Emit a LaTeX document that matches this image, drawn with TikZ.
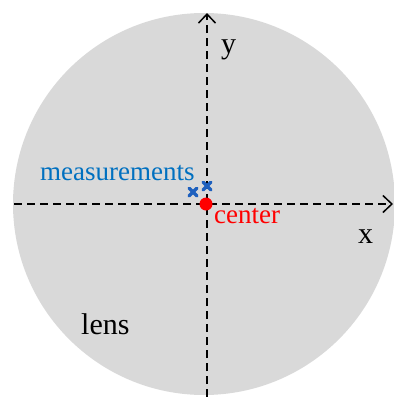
\documentclass[tikz,border=0pt]{standalone}
\usepackage{fontspec}
\setmainfont{Liberation Serif}
\usetikzlibrary{arrows.meta,calc}
\definecolor{lensgray}{RGB}{217,217,217}
\definecolor{measblue}{RGB}{0,112,192}
\definecolor{crossblue}{RGB}{30,96,190}
\begin{document}
\begin{tikzpicture}[x=1pt,y=-1pt,
  axis/.style={line width=1.8pt,dash pattern=on 8pt off 5pt,-{Straight Barb[length=9pt,width=17pt,line width=1.5pt]}},
  lbl/.style={inner sep=0pt,anchor=base west,font=\fontsize{27}{29}\selectfont},
  xmark/.style={draw=crossblue,line width=3.4pt,line cap=round}]
\useasboundingbox (0,0) rectangle (394,397);
\fill[lensgray] (204,204) circle[radius=191];
\coordinate (xl) at (14,204);
\coordinate (xr) at (393,204);
\coordinate (yb) at (207,397);
\coordinate (yt) at (207,13);
\draw[axis] (xl) -- (xr);
\draw[axis] (yb) -- (yt);
\node[lbl,font=\fontsize{30}{32}\selectfont] (ylab) at (221,53) {y};
\node[lbl,font=\fontsize{30}{32}\selectfont] (xlab) at (358,243) {x};
\node[lbl,text=measblue] (meas) at (40,180) {measurements};
\node[lbl,text=red] (cen) at (214,223) {center};
\node[lbl,font=\fontsize{30}{32}\selectfont] (lens) at (81,334) {lens};
\coordinate (m1) at (193,192);
\coordinate (m2) at (207,186);
\foreach \m in {m1,m2}{
  \draw[xmark] ($(\m)+(-3.8,-3.8)$) -- ($(\m)+(3.8,3.8)$);
  \draw[xmark] ($(\m)+(-3.8,3.8)$) -- ($(\m)+(3.8,-3.8)$);
}
\node[circle,fill=red,minimum size=13pt,inner sep=0pt] (c) at (206,204) {};
\end{tikzpicture}
\end{document}
